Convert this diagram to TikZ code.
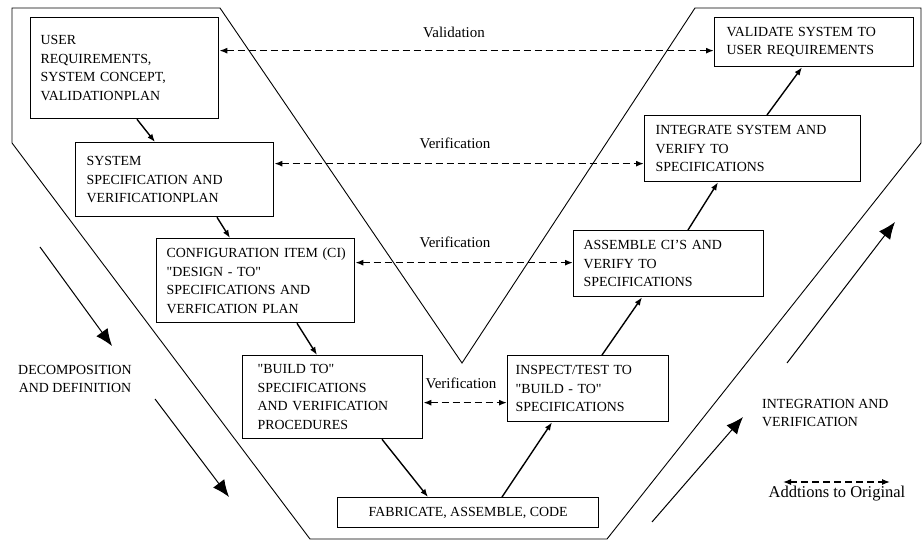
\documentclass[tikz,border=0pt]{standalone}
\usepackage{fontspec}
\setmainfont{Liberation Serif}
\usepackage{tikz}
\usetikzlibrary{arrows}
\usetikzlibrary{arrows.meta}

\newcommand{\boxfont}{\fontsize{13.9}{18.5}\selectfont}
\newcommand{\lblfont}{\fontsize{15}{18}\selectfont}
\newcommand{\qq}{\textquotedbl}

\begin{document}
\begin{tikzpicture}[x=1pt, y=-1pt, >={Latex[length=8pt,width=6pt]},
    stage/.style n args={3}{draw, line width=1.3pt, anchor=north west, font=\boxfont,
      align=left, inner xsep=0pt, inner ysep=0pt, text width=#1-1pt, minimum height=#2,
      execute at begin node={\leftskip=#3\relax}},
    link/.style={->, line width=1.4pt},
    check/.style={<->, line width=1.5pt, dash pattern=on 7pt off 4pt},
    bigarrow/.style={-{Latex[length=17pt,width=14pt]}, line width=1pt},
    lbl/.style={font=\lblfont, inner sep=0pt}]
      % picture is 922 x 540, origin at top left
      \useasboundingbox (0,0) rectangle (922,540);
      % the V outline
      \draw [line width=0.9pt] (12,8) -- (220,8) -- (462,363) -- (695,8) -- (921,8) -- (921,143)
        -- (607,539) -- (310,539) -- (12,143) -- cycle;

      % left leg: decomposition
      \node [stage={189pt}{101pt}{10pt}] (ureq) at (30,17) {USER\\REQUIREMENTS,\\SYSTEM CONCEPT,\\VALIDATIONPLAN};
      \node [stage={199pt}{74pt}{11pt}] (sspec) at (75,142) {SYSTEM\\SPECIFICATION AND\\VERIFICATIONPLAN};
      \node [stage={199pt}{84pt}{10pt}] (ci) at (156,238) {CONFIGURATION ITEM (CI)\\\qq DESIGN - TO\qq\\SPECIFICATIONS AND\\VERFICATION PLAN};
      \node [stage={181pt}{83pt}{15pt}] (build) at (242,355) {\qq BUILD TO\qq\\SPECIFICATIONS\\AND VERIFICATION\\PROCEDURES};
      \node [draw, line width=1.3pt, anchor=north west, font=\boxfont, minimum width=261pt, minimum height=30pt,
        inner sep=0pt] (fab) at (337,497) {FABRICATE, ASSEMBLE, CODE};

      % right leg: integration
      \node [stage={162pt}{66pt}{8pt}] (insp) at (507,355) {INSPECT/TEST TO\\\qq BUILD - TO\qq\\SPECIFICATIONS};
      \node [stage={191pt}{66pt}{10pt}] (asm) at (573,230) {ASSEMBLE CI’S AND\\VERIFY TO\\SPECIFICATIONS};
      \node [stage={217pt}{66pt}{11pt}] (integ) at (644,115) {INTEGRATE SYSTEM AND\\VERIFY TO\\SPECIFICATIONS};
      \node [stage={200pt}{49pt}{12pt}] (valid) at (714,17) {VALIDATE SYSTEM TO\\USER REQUIREMENTS};

      \draw [link] ([xshift=107pt]ureq.south west) -- ([xshift=80pt]sspec.north west);
      \draw [link] ([xshift=142pt]sspec.south west) -- ([xshift=74pt]ci.north west);
      \draw [link] ([xshift=141pt]ci.south west) -- ([xshift=75pt]build.north west);
      \draw [link] ([xshift=140pt]build.south west) -- ([xshift=91pt]fab.north west);
      \draw [link] ([xshift=165pt]fab.north west) -- ([xshift=45pt]insp.south west);
      \draw [link] ([xshift=95pt]insp.north west) -- ([xshift=69pt]asm.south west);
      \draw [link] ([xshift=115pt]asm.north west) -- ([xshift=74pt]integ.south west);
      \draw [link] ([xshift=123pt]integ.north west) -- ([xshift=88pt]valid.south west);

      % validation / verification across the V
      \draw [check] ([yshift=17.5pt]ureq.east) -- ([yshift=17.5pt]ureq.east -| valid.west);
      \draw [check] ([yshift=16pt]sspec.east) -- ([yshift=16pt]sspec.east -| integ.west);
      \draw [check] ([yshift=18pt]ci.east) -- ([yshift=18pt]ci.east -| asm.west);
      \draw [check] ([yshift=-5.5pt]build.east) -- ([yshift=-5.5pt]build.east -| insp.west);
      \node [lbl] (lval) at (454,32) {Validation};
      \node [lbl] (lver1) at (455,143) {Verification};
      \node [lbl] (lver2) at (455,242) {Verification};
      \node [lbl] (lver3) at (461,383) {Verification};

      % direction arrows
      \coordinate (dec1a) at (40,247);
      \coordinate (dec1b) at (112,346);
      \coordinate (dec2a) at (155,399);
      \coordinate (dec2b) at (229,497);
      \coordinate (int1a) at (652,522);
      \coordinate (int1b) at (743,417);
      \coordinate (int2a) at (787,363);
      \coordinate (int2b) at (895,222);
      \draw [bigarrow] (dec1a) -- (dec1b);
      \draw [bigarrow] (dec2a) -- (dec2b);
      \draw [bigarrow] (int1a) -- (int1b);
      \draw [bigarrow] (int2a) -- (int2b);
      \node [font=\boxfont, align=center, inner sep=0pt] (decomp) at (75,379) {DECOMPOSITION\\AND DEFINITION};
      \node [font=\boxfont, align=left, anchor=west, inner sep=0pt] (integr) at (762,413) {INTEGRATION AND\\VERIFICATION};

      % legend
      \coordinate (lega) at (783,482);
      \coordinate (legb) at (890,482);
      \draw [check, line width=1.2pt] (lega) -- (legb);
      \node [font=\fontsize{16.5}{19}\selectfont, inner sep=0pt] (legtxt) at (837,494) {Addtions to Original};
\end{tikzpicture}
\end{document}
